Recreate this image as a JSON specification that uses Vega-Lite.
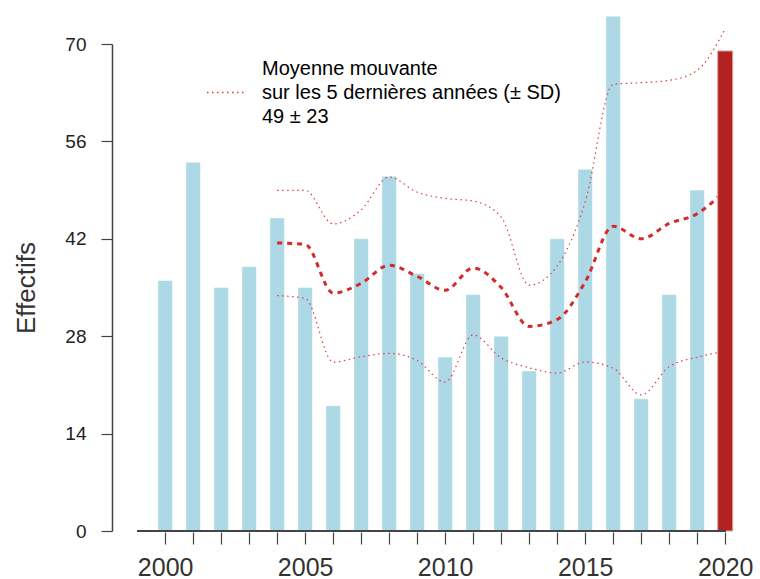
{
  "$schema": "https://vega.github.io/schema/vega-lite/v6.json",
  "width": 635,
  "height": 487,
  "autosize": {"type": "none"},
  "padding": {"left": 112, "top": 44, "right": 13, "bottom": 48},
  "background": "white",
  "config": {
    "view": {"stroke": null},
    "font": "Liberation Sans",
    "axis": {"grid": false},
    "axisX": {
      "domain": false,
      "offset": 1,
      "tickSize": 12,
      "tickColor": "#444444",
      "tickWidth": 1.2,
      "labelFontSize": 25,
      "labelColor": "#333333",
      "labelPadding": 11,
      "labelFlush": false,
      "labelOverlap": false
    },
    "axisY": {
      "domain": true,
      "domainColor": "#444444",
      "domainWidth": 1.5,
      "tickSize": 11,
      "tickColor": "#444444",
      "tickWidth": 1.2,
      "labelFontSize": 19,
      "labelColor": "#222222",
      "labelPadding": 15,
      "labelFlush": false,
      "labelOverlap": false,
      "titleFontSize": 26,
      "titleFontWeight": "normal",
      "titleColor": "#333333",
      "titlePadding": 25
    }
  },
  "datasets": {
    "counts": [
      {"year": 2000, "n": 36}, {"year": 2001, "n": 53}, {"year": 2002, "n": 35},
      {"year": 2003, "n": 38}, {"year": 2004, "n": 45}, {"year": 2005, "n": 35},
      {"year": 2006, "n": 18}, {"year": 2007, "n": 42}, {"year": 2008, "n": 51},
      {"year": 2009, "n": 37}, {"year": 2010, "n": 25}, {"year": 2011, "n": 34},
      {"year": 2012, "n": 28}, {"year": 2013, "n": 23}, {"year": 2014, "n": 42},
      {"year": 2015, "n": 52}, {"year": 2016, "n": 74}, {"year": 2017, "n": 19},
      {"year": 2018, "n": 34}, {"year": 2019, "n": 49}, {"year": 2020, "n": 69}
    ],
    "moving": [
      {"year": 2004, "ma": 41.4, "lo": 33.83, "hi": 48.97},
      {"year": 2005, "ma": 41.2, "lo": 33.44, "hi": 48.96},
      {"year": 2006, "ma": 34.2, "lo": 24.27, "hi": 44.13},
      {"year": 2007, "ma": 35.6, "lo": 25.05, "hi": 46.15},
      {"year": 2008, "ma": 38.2, "lo": 25.52, "hi": 50.88},
      {"year": 2009, "ma": 36.6, "lo": 24.5, "hi": 48.7},
      {"year": 2010, "ma": 34.6, "lo": 21.4, "hi": 47.8},
      {"year": 2011, "ma": 37.8, "lo": 28.17, "hi": 47.43},
      {"year": 2012, "ma": 35.0, "lo": 24.88, "hi": 45.12},
      {"year": 2013, "ma": 29.4, "lo": 23.46, "hi": 35.34},
      {"year": 2014, "ma": 30.4, "lo": 22.7, "hi": 38.1},
      {"year": 2015, "ma": 35.8, "lo": 24.3, "hi": 47.3},
      {"year": 2016, "ma": 43.8, "lo": 23.4, "hi": 64.2},
      {"year": 2017, "ma": 42.0, "lo": 19.56, "hi": 64.44},
      {"year": 2018, "ma": 44.2, "lo": 23.63, "hi": 64.77},
      {"year": 2019, "ma": 45.6, "lo": 24.98, "hi": 66.22},
      {"year": 2020, "ma": 49.0, "lo": 25.82, "hi": 72.18}
    ]
  },
  "encoding": {
    "x": {
      "field": "year", "type": "quantitative",
      "scale": {"domain": [1998.28, 2020.6], "nice": false, "zero": false},
      "axis": {
        "title": null,
        "values": [2000,2001,2002,2003,2004,2005,2006,2007,2008,2009,2010,2011,2012,2013,2014,2015,2016,2017,2018,2019,2020],
        "format": "d",
        "labelOverlap": false,
        "labelExpr": "datum.value % 5 === 0 ? datum.label : ''"
      }
    }
  },
  "layer": [
    {
      "data": {"name": "counts"},
      "transform": [{"filter": "datum.year < 2020"}],
      "mark": {"type": "bar", "width": 14.5, "color": "#add8e6", "stroke": "#ffffff", "strokeOpacity": 0.5, "strokeWidth": 1},
      "encoding": {
        "y": {
          "field": "n", "type": "quantitative",
          "scale": {"domain": [0, 70], "nice": false},
          "axis": {
            "title": "Effectifs",
            "values": [0, 14, 28, 42, 56, 70]
          }
        }
      }
    },
    {
      "data": {"name": "moving"},
      "mark": {"type": "line", "strokeWidth": 1.2, "strokeDash": [1.5, 3.5], "interpolate": "monotone"},
      "encoding": {
        "y": {"field": "hi", "type": "quantitative", "title": "Effectifs"},
        "color": {
          "datum": "sd",
          "scale": {"range": ["#e23b3b"]},
          "legend": {
            "orient": "none",
            "legendX": 94,
            "legendY": 29,
            "title": null,
            "padding": 0,
            "symbolType": "stroke",
            "symbolSize": 1369,
            "symbolStrokeWidth": 1.3,
            "symbolDash": [1.5, 3.5],
            "labelFontSize": 20,
            "labelColor": "#000000",
            "labelOffset": 17,
            "labelLimit": 600,
            "labelExpr": "['Moyenne mouvante', 'sur les 5 dernières années (± SD)', '\u200749 ± 23']",
            "encode": {"labels": {"update": {"lineHeight": {"value": 24}, "dy": {"value": -24}}}}
          }
        }
      }
    },
    {
      "data": {"name": "moving"},
      "mark": {"type": "line", "strokeWidth": 1.2, "strokeDash": [1.5, 3.5], "interpolate": "monotone"},
      "encoding": {
        "y": {"field": "lo", "type": "quantitative", "title": "Effectifs"},
        "color": {"datum": "sd"}
      }
    },
    {
      "data": {"name": "moving"},
      "mark": {"type": "line", "color": "#d42a2a", "strokeWidth": 3, "strokeDash": [5, 5], "interpolate": "monotone"},
      "encoding": {
        "y": {"field": "ma", "type": "quantitative", "title": "Effectifs"}
      }
    },
    {
      "data": {"name": "counts"},
      "transform": [{"filter": "datum.year == 2020"}],
      "mark": {"type": "bar", "width": 15, "color": "#b22222", "stroke": "#e5a0a0", "strokeWidth": 1},
      "encoding": {
        "y": {"field": "n", "type": "quantitative", "title": "Effectifs"}
      }
    },
    {
      "data": {"name": "counts"},
      "mark": {"type": "rule", "color": "#444444", "strokeWidth": 1.5},
      "encoding": {
        "x": {"datum": 1999, "type": "quantitative", "axis": {"title": null, "values": [2000,2001,2002,2003,2004,2005,2006,2007,2008,2009,2010,2011,2012,2013,2014,2015,2016,2017,2018,2019,2020], "format": "d", "labelOverlap": false, "labelExpr": "datum.value % 5 === 0 ? datum.label : ''"}},
        "x2": {"datum": 2020},
        "y": {"datum": 0, "type": "quantitative", "title": "Effectifs"}
      }
    }
  ]
}
